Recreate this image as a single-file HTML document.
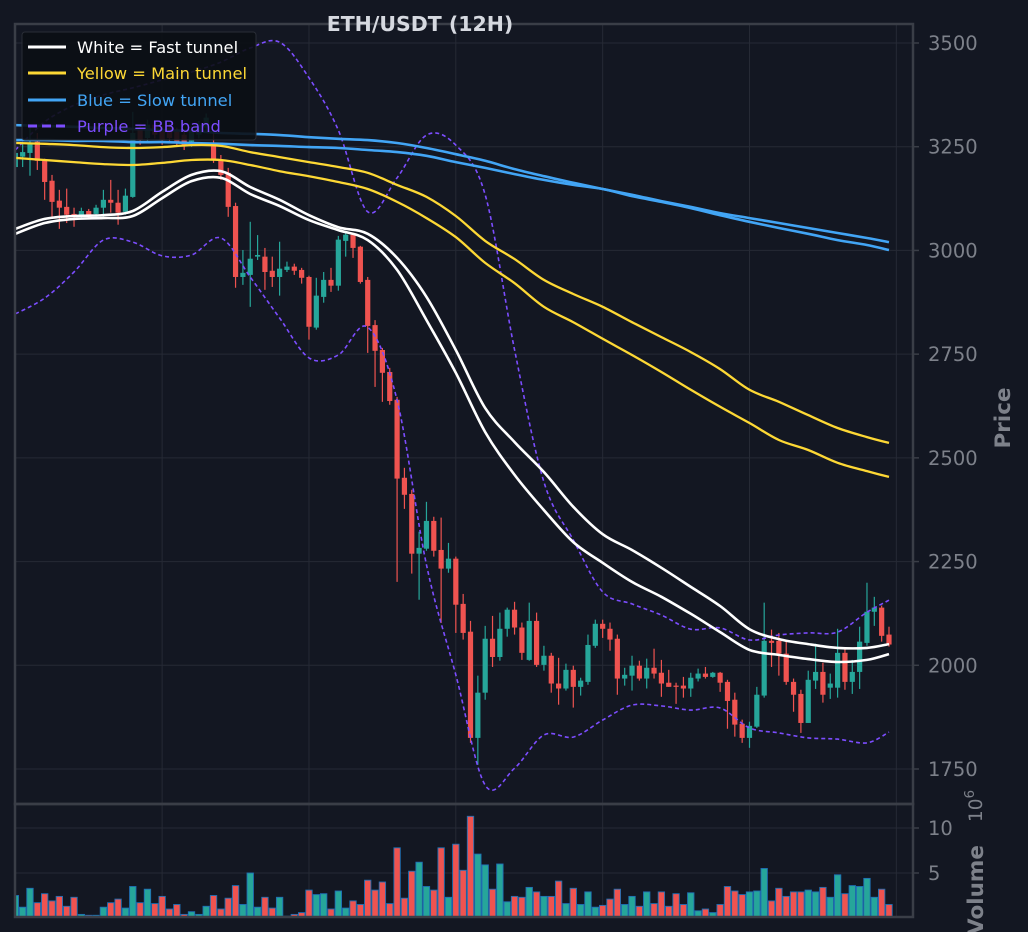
<!DOCTYPE html>
<html><head><meta charset="utf-8"><style>
html,body{margin:0;padding:0;background:#131722;}
svg{display:block;font-family:"DejaVu Sans","Liberation Sans",sans-serif;}
</style></head><body>
<svg id="chart" width="1028" height="932" viewBox="0 0 1028 932" xmlns="http://www.w3.org/2000/svg">
<rect x="0" y="0" width="1028" height="932" fill="#131722"/>
<defs>
<clipPath id="cp"><rect x="16" y="25" width="896" height="778"/></clipPath>
<clipPath id="cv"><rect x="16" y="805" width="896" height="111"/></clipPath>
</defs>
<g id="grid"></g>
<g id="candles" clip-path="url(#cp)"></g>
<g id="lines" clip-path="url(#cp)"></g>
<g id="vols" clip-path="url(#cv)"></g>
<g id="axes"></g>
<text x="420" y="31" text-anchor="middle" font-size="20.5" font-weight="bold" fill="#d6d9e0">ETH/USDT (12H)</text>
<text transform="translate(1010,418) rotate(-90)" text-anchor="middle" font-size="21.5" font-weight="bold" fill="#7d818a">Price</text>
<text transform="translate(983,935) rotate(-90)" text-anchor="start" font-size="21.5" font-weight="bold" fill="#7d818a">Volume</text>
<text transform="translate(982,822) rotate(-90)" text-anchor="start" font-size="18.5" fill="#7d818a">10<tspan dy="-8" font-size="13.5">6</tspan></text>
<g>
<rect x="22" y="32" width="234" height="108" rx="3" fill="#0b0e14" fill-opacity="0.9" stroke="#2a2e37"/>
<g><line x1="28" y1="47" x2="66" y2="47" stroke="#ffffff" stroke-width="3"/><text x="77" y="53" font-size="16.3" fill="#ffffff">White = Fast tunnel</text></g>
<g><line x1="28" y1="73" x2="66" y2="73" stroke="#fdd835" stroke-width="3"/><text x="77" y="79" font-size="16.3" fill="#fdd835">Yellow = Main tunnel</text></g>
<g><line x1="28" y1="100" x2="66" y2="100" stroke="#42a5f5" stroke-width="3"/><text x="77" y="106" font-size="16.3" fill="#42a5f5">Blue = Slow tunnel</text></g>
<g><line x1="28" y1="126" x2="66" y2="126" stroke="#7c4dff" stroke-width="3" stroke-dasharray="9,5"/><text x="77" y="132" font-size="16.3" fill="#7c4dff">Purple = BB band</text></g>
</g>
</svg>
<script>
const opens=[3201,3226,3235,3262,3216,3168,3120,3105,3088,3086,3095,3088,3103,3122,3115,3093,3129,3291,3271,3303,3291,3296,3286,3279,3262,3279,3296,3259,3218,3187,3107,2936,2941,2985,2985,2951,2936,2953,2961,2953,2936,2814,2888,2929,2915,3023,3038,3009,2929,2820,2760,2707,2640,2452,2413,2269,2281,2348,2278,2233,2257,2148,2081,1825,1934,2064,2020,2088,2134,2091,2013,2107,2001,2023,1956,1944,1989,1948,1960,2047,2100,2088,2064,1968,1975,1999,1968,1994,1982,1958,1951,1951,1944,1968,1980,1972,1982,1960,1917,1859,1825,1852,1927,2059,2059,2028,1960,1931,1861,1963,1984,1946,1946,2030,1960,1984,2054,2129,2139,2074];
const highs=[3266,3259,3303,3283,3221,3182,3146,3149,3103,3103,3100,3110,3146,3170,3146,3149,3334,3300,3315,3312,3300,3306,3296,3290,3300,3312,3330,3291,3230,3199,3115,3001,3069,3037,3006,2985,3021,2973,2968,2958,2939,2934,2948,2958,3035,3042,3042,3011,2936,2832,2765,2717,2647,2476,2423,2322,2394,2358,2356,2295,2262,2172,2107,1975,2095,2119,2127,2139,2153,2103,2151,2127,2047,2030,2018,2004,1999,1970,2074,2110,2110,2103,2074,1994,2023,2011,2016,2040,2013,1989,1958,1972,1982,1992,1996,1984,1984,1965,1934,1869,1864,1948,2151,2086,2078,2057,1968,1941,1987,2052,2006,1980,2088,2042,2013,2093,2199,2165,2144,2093];
const lows=[3175,3201,3180,3194,3122,3081,3052,3066,3057,3079,3079,3081,3081,3091,3062,3086,3127,3255,3260,3270,3255,3262,3250,3242,3250,3270,3288,3211,3170,3081,2910,2917,2864,2977,2905,2912,2891,2948,2941,2920,2785,2809,2874,2900,2903,2985,2982,2920,2753,2671,2635,2628,2201,2377,2221,2158,2276,2262,2102,2223,2078,2062,1813,1760,1917,1996,2011,2069,2074,2013,2011,1996,1987,1934,1905,1939,1898,1927,1953,2042,2066,2035,1929,1951,1939,1963,1944,1968,1924,1948,1907,1922,1924,1961,1968,1970,1936,1847,1828,1813,1801,1849,1922,1996,1975,1953,1888,1837,1861,1943,1910,1919,1922,1941,1931,1943,2047,2095,2057,2045];
const closes=[3235,3237,3259,3216,3165,3117,3103,3086,3083,3095,3086,3103,3122,3115,3091,3132,3283,3267,3303,3279,3267,3271,3262,3255,3291,3303,3320,3218,3182,3105,2936,2946,2980,2989,2948,2936,2956,2961,2951,2934,2816,2891,2929,2915,3026,3038,3006,2924,2818,2758,2705,2637,2450,2411,2269,2283,2348,2276,2233,2257,2146,2078,1825,1934,2064,2020,2088,2134,2091,2030,2107,2001,2023,1956,1944,1989,1948,1963,2049,2100,2088,2062,1968,1977,1999,1968,1994,1980,1956,1948,1948,1944,1970,1980,1972,1982,1958,1914,1857,1825,1854,1929,2059,2054,2028,1960,1929,1861,1965,1984,1929,1956,2030,1960,1984,2057,2129,2139,2071,2050];
const volumes=[2.5,1.2,3.3,1.7,2.7,1.9,2.4,1.3,2.3,0.4,0.3,0.3,1.2,1.7,2.1,1.1,3.5,1.7,3.2,1.6,2.4,1.0,1.5,0.4,0.7,0.4,1.3,2.5,1.0,2.2,3.6,1.5,5.0,1.2,2.3,1.1,2.3,0.2,0.4,0.6,3.1,2.6,2.7,1.0,3.0,1.1,1.9,1.5,4.2,3.1,4.0,1.6,7.8,2.2,5.2,6.2,3.5,3.1,7.8,2.3,8.2,5.3,11.3,7.1,5.9,3.2,6.0,1.8,2.4,2.3,3.4,2.9,2.4,2.4,4.1,1.6,3.3,1.5,2.9,1.2,1.4,2.1,3.2,1.5,2.4,1.3,2.9,1.6,2.9,1.3,2.7,1.5,2.8,0.8,1.0,0.6,1.5,3.5,3.0,2.6,2.9,3.0,5.5,1.9,3.3,2.4,2.9,2.9,3.1,2.9,3.4,2.3,4.8,2.7,3.6,3.5,4.4,2.3,3.2,1.5];
const lineIdx=[0,4,8,12,16,20,24,28,32,36,40,44,48,52,56,60,64,68,72,76,80,84,88,92,96,100,104,108,112,116,119];
const fastUpper=[3052,3076,3083,3085,3095,3141,3182,3191,3153,3122,3085,3056,3040,2982,2888,2760,2620,2538,2466,2382,2316,2278,2235,2189,2143,2087,2063,2051,2042,2042,2051];
const fastLower=[3040,3066,3076,3078,3083,3126,3167,3175,3136,3107,3073,3049,3025,2953,2832,2705,2562,2459,2374,2297,2247,2201,2165,2124,2080,2037,2025,2015,2008,2013,2027];
const mainUpper=[3259,3257,3254,3249,3247,3249,3254,3252,3237,3225,3213,3201,3187,3158,3129,3083,3023,2979,2929,2895,2864,2827,2791,2755,2714,2664,2635,2603,2572,2550,2536];
const mainLower=[3223,3218,3213,3208,3206,3211,3218,3218,3206,3191,3179,3165,3148,3117,3078,3032,2970,2921,2864,2827,2787,2748,2707,2664,2623,2584,2543,2519,2488,2468,2454];
const slowUpper=[3302,3300,3298,3295,3293,3290,3288,3283,3281,3278,3273,3269,3266,3259,3247,3232,3216,3196,3179,3163,3148,3134,3119,3105,3090,3078,3066,3054,3042,3030,3020];
const slowLower=[3266,3266,3264,3264,3261,3261,3259,3257,3254,3252,3249,3247,3242,3237,3228,3213,3199,3184,3170,3158,3148,3131,3117,3102,3085,3069,3054,3040,3025,3013,3001];
const bbUpper=[3242,3310,3350,3375,3392,3411,3430,3454,3488,3502,3416,3290,3093,3175,3278,3254,3134,2760,2442,2302,2177,2148,2121,2087,2090,2061,2073,2078,2080,2128,2157];
const bbLower=[2847,2885,2948,3025,3020,2987,2989,3030,2936,2837,2741,2748,2815,2639,2242,1977,1711,1752,1832,1827,1868,1904,1902,1892,1897,1849,1837,1825,1822,1813,1839];
const priceTicks=[1750,2000,2250,2500,2750,3000,3250,3500];
const volTicks=[5,10];
const gridIdx=[20,40,60,80,100,120];

const NS="http://www.w3.org/2000/svg";
const xS=i=>15.3+7.342*i;
const yS=p=>769-(p-1750)*0.41486;
const yV=v=>918-9*v;
function mk(tag,attrs,parent){const e=document.createElementNS(NS,tag);for(const k in attrs)e.setAttribute(k,attrs[k]);parent.appendChild(e);return e;}
const grid=document.getElementById('grid'),axes=document.getElementById('axes');
const GC="#262a35",AX="#3a3e47",TC="#7d818a";
priceTicks.forEach(p=>{
  const g=mk('line',{x1:16,x2:912,y1:yS(p),y2:yS(p),stroke:GC,'stroke-width':1},grid);
  
  
  mk('line',{x1:913,x2:919,y1:yS(p),y2:yS(p),stroke:AX,'stroke-width':1.5},axes);
  const t=mk('text',{x:928,y:yS(p)+7,'font-size':19.5,fill:TC},axes);
  t.textContent=p;
  
  
});
volTicks.forEach(v=>{
  const g=mk('line',{x1:16,x2:912,y1:yV(v),y2:yV(v),stroke:GC,'stroke-width':1},grid);
  
  
  mk('line',{x1:913,x2:919,y1:yV(v),y2:yV(v),stroke:AX,'stroke-width':1.5},axes);
  const t=mk('text',{x:928,y:yV(v)+7,'font-size':19.5,fill:TC},axes);
  t.textContent=v;
  
  
});
gridIdx.forEach(i=>{
  const x=xS(i);
  const a=mk('line',{x1:x,x2:x,y1:25,y2:803,stroke:GC,'stroke-width':1},grid);
  
  
  const b=mk('line',{x1:x,x2:x,y1:805,y2:916,stroke:GC,'stroke-width':1},grid);
  
  
});
const f1=mk('rect',{x:15,y:24,width:898,height:780,fill:'none',stroke:AX,'stroke-width':2.5},axes);


const f2=mk('rect',{x:15,y:804,width:898,height:113,fill:'none',stroke:AX,'stroke-width':2.5},axes);



const RED="#ef5350",GRN="#26a69a";
const cg=document.getElementById('candles'),vg=document.getElementById('vols');
for(let i=0;i<opens.length;i++){
  const up=closes[i]>=opens[i],c=up?GRN:RED,x=xS(i);
  const w=mk('line',{x1:x,x2:x,y1:yS(highs[i]),y2:yS(lows[i]),stroke:c,'stroke-width':1.2},cg);
  
  
  const top=yS(Math.max(opens[i],closes[i])),bot=yS(Math.min(opens[i],closes[i]));
  const b=mk('rect',{x:x-2.6,y:top,width:5.2,height:Math.max(1.2,bot-top),fill:c},cg);
  
  
  const vt=yV(volumes[i]);
  const v=mk('rect',{x:x-3.2,y:vt,width:6.4,height:Math.max(0.5,917-vt),fill:c,stroke:'#1f6fb4','stroke-width':0.9},vg);
  
  
}
const lg=document.getElementById('lines');
function drawLine(vals,color,width,dash,name){
  const P=lineIdx.map((i,k)=>[xS(i),yS(vals[k])]);
  let d='M'+P[0][0].toFixed(1)+','+P[0][1].toFixed(1);
  for(let k=0;k<P.length-1;k++){
    const p0=P[Math.max(0,k-1)],p1=P[k],p2=P[k+1],p3=P[Math.min(P.length-1,k+2)];
    const c1x=p1[0]+(p2[0]-p0[0])/6,c1y=p1[1]+(p2[1]-p0[1])/6;
    const c2x=p2[0]-(p3[0]-p1[0])/6,c2y=p2[1]-(p3[1]-p1[1])/6;
    d+=' C'+c1x.toFixed(1)+','+c1y.toFixed(1)+' '+c2x.toFixed(1)+','+c2y.toFixed(1)+' '+p2[0].toFixed(1)+','+p2[1].toFixed(1);
  }
  const a={d:d,fill:'none',stroke:color,'stroke-width':width,'stroke-linejoin':'round'};
  if(dash)a['stroke-dasharray']=dash;
  const p=mk('path',a,lg);
  
  
}
drawLine(bbUpper,'#7c4dff',1.6,'4,3','bb-upper-line');
drawLine(bbLower,'#7c4dff',1.6,'4,3','bb-lower-line');
drawLine(slowUpper,'#42a5f5',2.6,null,'slow-tunnel-upper');
drawLine(slowLower,'#42a5f5',2.6,null,'slow-tunnel-lower');
drawLine(mainUpper,'#fdd835',2.3,null,'main-tunnel-upper');
drawLine(mainLower,'#fdd835',2.3,null,'main-tunnel-lower');
drawLine(fastUpper,'#ffffff',2.6,null,'fast-tunnel-upper');
drawLine(fastLower,'#ffffff',2.6,null,'fast-tunnel-lower');
</script>
</body></html>
